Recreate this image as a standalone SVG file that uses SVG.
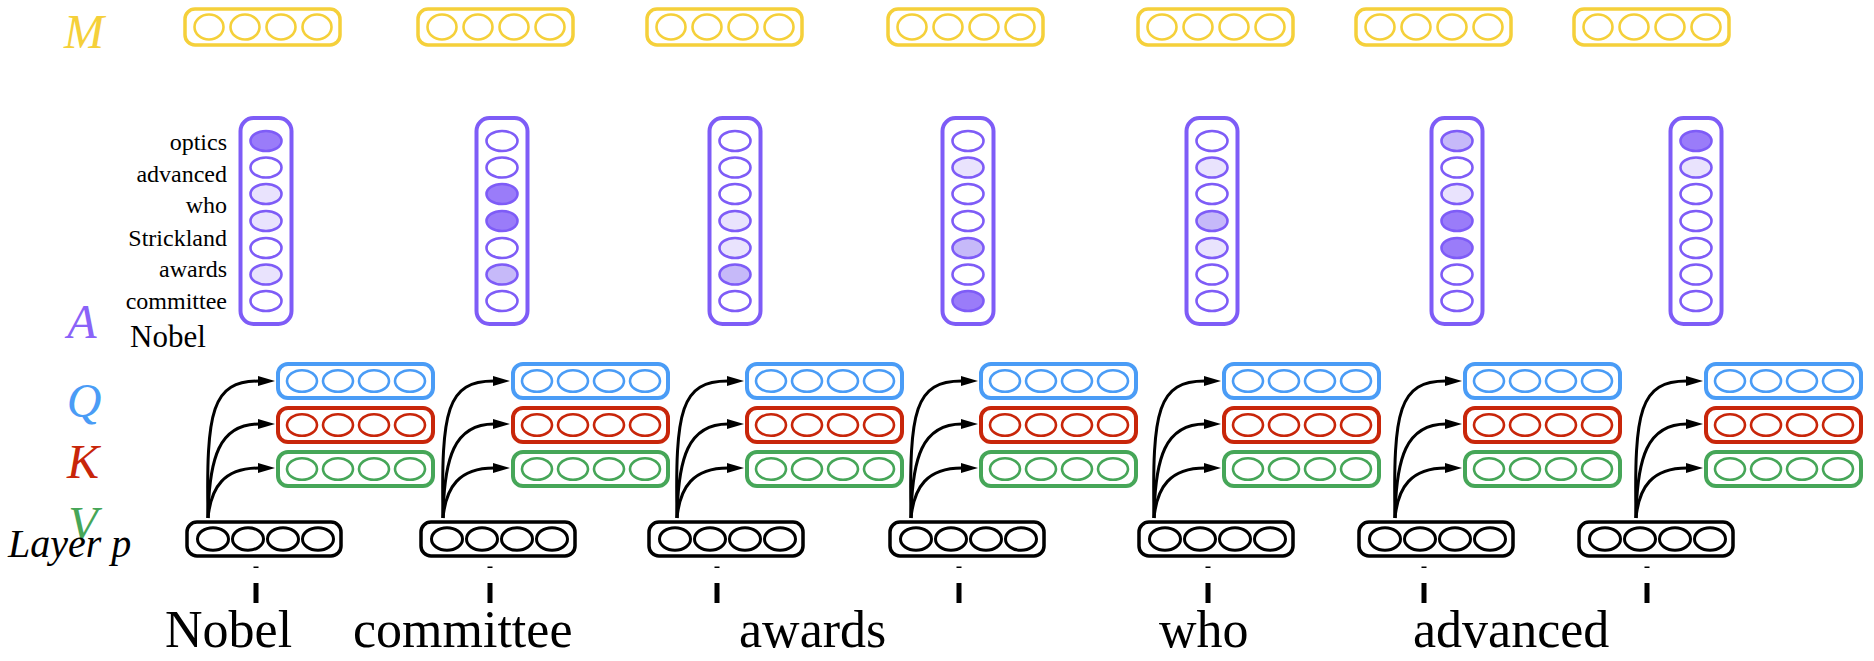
<svg xmlns="http://www.w3.org/2000/svg" width="1874" height="661" viewBox="0 0 1874 661">
<style>
  .t { font-family: "Liberation Serif", "Times New Roman", serif; }
  .it { font-family: "Liberation Serif", "Times New Roman", serif; font-style: italic; }
  .ybox { fill: #fff; stroke: #F5D03A; stroke-width: 3.5; }
  .yc { fill: #fff; stroke: #F5D03A; stroke-width: 2.6; }
  .qbox { fill: #fff; stroke: #4A9CF6; stroke-width: 4; }
  .qc { fill: #fff; stroke: #4A9CF6; stroke-width: 2.6; }
  .kbox { fill: #fff; stroke: #C8260A; stroke-width: 4; }
  .kc { fill: #fff; stroke: #C8260A; stroke-width: 2.6; }
  .vbox { fill: #fff; stroke: #46A658; stroke-width: 4; }
  .vc { fill: #fff; stroke: #46A658; stroke-width: 2.6; }
  .bbox { fill: #fff; stroke: #000; stroke-width: 3.5; }
  .bc { fill: #fff; stroke: #000; stroke-width: 3; }
  .pbox { fill: #fff; stroke: #7E5CF7; stroke-width: 4; }
  .pc { fill: #fff; stroke: #7E5CF7; stroke-width: 2.6; }
  .p0 { fill: #fff; }
  .p1 { fill: #E9E3FD; }
  .p2 { fill: #C6B9F9; }
  .p3 { fill: #9A7CF9; }
  .arr { fill: none; stroke: #000; stroke-width: 3; marker-end: url(#ah); }
  .tick { fill: #000; }
</style>
<defs>
  <marker id="ah" markerUnits="userSpaceOnUse" markerWidth="18" markerHeight="12" refX="1" refY="5" orient="auto">
    <path d="M0,0 L17,5 L0,10 z" fill="#000"/>
  </marker>
  <g id="yrow">
    <rect class="ybox" x="2" y="9" width="155" height="36" rx="10"/>
    <ellipse class="yc" cx="26" cy="27" rx="14.5" ry="12.5"/>
    <ellipse class="yc" cx="62" cy="27" rx="14.5" ry="12.5"/>
    <ellipse class="yc" cx="98" cy="27" rx="14.5" ry="12.5"/>
    <ellipse class="yc" cx="134" cy="27" rx="14.5" ry="12.5"/>
  </g>
  <g id="qrow">
    <rect class="qbox" x="2" y="2" width="155" height="34" rx="10"/>
    <ellipse class="qc" cx="26" cy="19" rx="15" ry="10.8"/>
    <ellipse class="qc" cx="62" cy="19" rx="15" ry="10.8"/>
    <ellipse class="qc" cx="98" cy="19" rx="15" ry="10.8"/>
    <ellipse class="qc" cx="134" cy="19" rx="15" ry="10.8"/>
  </g>
  <g id="krow">
    <rect class="kbox" x="2" y="2" width="155" height="34" rx="10"/>
    <ellipse class="kc" cx="26" cy="19" rx="15" ry="10.8"/>
    <ellipse class="kc" cx="62" cy="19" rx="15" ry="10.8"/>
    <ellipse class="kc" cx="98" cy="19" rx="15" ry="10.8"/>
    <ellipse class="kc" cx="134" cy="19" rx="15" ry="10.8"/>
  </g>
  <g id="vrow">
    <rect class="vbox" x="2" y="2" width="155" height="34" rx="10"/>
    <ellipse class="vc" cx="26" cy="19" rx="15" ry="10.8"/>
    <ellipse class="vc" cx="62" cy="19" rx="15" ry="10.8"/>
    <ellipse class="vc" cx="98" cy="19" rx="15" ry="10.8"/>
    <ellipse class="vc" cx="134" cy="19" rx="15" ry="10.8"/>
  </g>
  <g id="brow">
    <rect class="bbox" x="2" y="2" width="154" height="34" rx="10"/>
    <ellipse class="bc" cx="28" cy="19" rx="15.5" ry="11.3"/>
    <ellipse class="bc" cx="63" cy="19" rx="15.5" ry="11.3"/>
    <ellipse class="bc" cx="98" cy="19" rx="15.5" ry="11.3"/>
    <ellipse class="bc" cx="133" cy="19" rx="15.5" ry="11.3"/>
  </g>
  <rect id="pcol" class="pbox" x="-25.5" y="118" width="51" height="206" rx="13"/>
</defs>

<!-- row labels -->
<g id="row-labels">
  <text class="it" x="84" y="48" font-size="48" text-anchor="middle" fill="#F5D03A">M</text>
  <text class="it" x="82" y="338" font-size="48" text-anchor="middle" fill="#8A63F8">A</text>
  <text class="it" x="84" y="417" font-size="48" text-anchor="middle" fill="#4A9CF6">Q</text>
  <text class="it" x="83" y="478" font-size="48" text-anchor="middle" fill="#C8260A">K</text>
  <text class="it" x="83" y="540" font-size="48" text-anchor="middle" fill="#46A658">V</text>
  <text class="it" x="8" y="557" font-size="40" fill="#000">Layer p</text>
</g>

<g id="attn-labels" class="t" font-size="24" text-anchor="end" fill="#000">
  <text x="227" y="150">optics</text>
  <text x="227" y="182">advanced</text>
  <text x="227" y="213">who</text>
  <text x="227" y="245.5">Strickland</text>
  <text x="227" y="277">awards</text>
  <text x="227" y="309">committee</text>
  <text x="130" y="347" text-anchor="start" font-size="31">Nobel</text>
</g>

<!-- M row -->
<g id="m1"><use href="#yrow" transform="translate(183,0)"/></g>
<g id="m2"><use href="#yrow" transform="translate(416,0)"/></g>
<g id="m3"><use href="#yrow" transform="translate(645,0)"/></g>
<g id="m4"><use href="#yrow" transform="translate(886,0)"/></g>
<g id="m5"><use href="#yrow" transform="translate(1136,0)"/></g>
<g id="m6"><use href="#yrow" transform="translate(1354,0)"/></g>
<g id="m7"><use href="#yrow" transform="translate(1572,0)"/></g>

<!-- A columns -->
<g id="a1" transform="translate(266,0)">
  <use href="#pcol"/>
  <ellipse class="pc p3" cx="0" cy="141" rx="15.5" ry="10"/>
  <ellipse class="pc p0" cx="0" cy="167.5" rx="15.5" ry="10"/>
  <ellipse class="pc p1" cx="0" cy="194" rx="15.5" ry="10"/>
  <ellipse class="pc p1" cx="0" cy="221" rx="15.5" ry="10"/>
  <ellipse class="pc p0" cx="0" cy="248" rx="15.5" ry="10"/>
  <ellipse class="pc p1" cx="0" cy="274.5" rx="15.5" ry="10"/>
  <ellipse class="pc p0" cx="0" cy="301" rx="15.5" ry="10"/>
</g>
<g id="a2" transform="translate(502,0)">
  <use href="#pcol"/>
  <ellipse class="pc p0" cx="0" cy="141" rx="15.5" ry="10"/>
  <ellipse class="pc p0" cx="0" cy="167.5" rx="15.5" ry="10"/>
  <ellipse class="pc p3" cx="0" cy="194" rx="15.5" ry="10"/>
  <ellipse class="pc p3" cx="0" cy="221" rx="15.5" ry="10"/>
  <ellipse class="pc p0" cx="0" cy="248" rx="15.5" ry="10"/>
  <ellipse class="pc p2" cx="0" cy="274.5" rx="15.5" ry="10"/>
  <ellipse class="pc p0" cx="0" cy="301" rx="15.5" ry="10"/>
</g>
<g id="a3" transform="translate(735,0)">
  <use href="#pcol"/>
  <ellipse class="pc p0" cx="0" cy="141" rx="15.5" ry="10"/>
  <ellipse class="pc p0" cx="0" cy="167.5" rx="15.5" ry="10"/>
  <ellipse class="pc p0" cx="0" cy="194" rx="15.5" ry="10"/>
  <ellipse class="pc p1" cx="0" cy="221" rx="15.5" ry="10"/>
  <ellipse class="pc p1" cx="0" cy="248" rx="15.5" ry="10"/>
  <ellipse class="pc p2" cx="0" cy="274.5" rx="15.5" ry="10"/>
  <ellipse class="pc p0" cx="0" cy="301" rx="15.5" ry="10"/>
</g>
<g id="a4" transform="translate(968,0)">
  <use href="#pcol"/>
  <ellipse class="pc p0" cx="0" cy="141" rx="15.5" ry="10"/>
  <ellipse class="pc p1" cx="0" cy="167.5" rx="15.5" ry="10"/>
  <ellipse class="pc p0" cx="0" cy="194" rx="15.5" ry="10"/>
  <ellipse class="pc p0" cx="0" cy="221" rx="15.5" ry="10"/>
  <ellipse class="pc p2" cx="0" cy="248" rx="15.5" ry="10"/>
  <ellipse class="pc p0" cx="0" cy="274.5" rx="15.5" ry="10"/>
  <ellipse class="pc p3" cx="0" cy="301" rx="15.5" ry="10"/>
</g>
<g id="a5" transform="translate(1212,0)">
  <use href="#pcol"/>
  <ellipse class="pc p0" cx="0" cy="141" rx="15.5" ry="10"/>
  <ellipse class="pc p1" cx="0" cy="167.5" rx="15.5" ry="10"/>
  <ellipse class="pc p0" cx="0" cy="194" rx="15.5" ry="10"/>
  <ellipse class="pc p2" cx="0" cy="221" rx="15.5" ry="10"/>
  <ellipse class="pc p1" cx="0" cy="248" rx="15.5" ry="10"/>
  <ellipse class="pc p0" cx="0" cy="274.5" rx="15.5" ry="10"/>
  <ellipse class="pc p0" cx="0" cy="301" rx="15.5" ry="10"/>
</g>
<g id="a6" transform="translate(1457,0)">
  <use href="#pcol"/>
  <ellipse class="pc p2" cx="0" cy="141" rx="15.5" ry="10"/>
  <ellipse class="pc p0" cx="0" cy="167.5" rx="15.5" ry="10"/>
  <ellipse class="pc p1" cx="0" cy="194" rx="15.5" ry="10"/>
  <ellipse class="pc p3" cx="0" cy="221" rx="15.5" ry="10"/>
  <ellipse class="pc p3" cx="0" cy="248" rx="15.5" ry="10"/>
  <ellipse class="pc p0" cx="0" cy="274.5" rx="15.5" ry="10"/>
  <ellipse class="pc p0" cx="0" cy="301" rx="15.5" ry="10"/>
</g>
<g id="a7" transform="translate(1696,0)">
  <use href="#pcol"/>
  <ellipse class="pc p3" cx="0" cy="141" rx="15.5" ry="10"/>
  <ellipse class="pc p1" cx="0" cy="167.5" rx="15.5" ry="10"/>
  <ellipse class="pc p0" cx="0" cy="194" rx="15.5" ry="10"/>
  <ellipse class="pc p0" cx="0" cy="221" rx="15.5" ry="10"/>
  <ellipse class="pc p0" cx="0" cy="248" rx="15.5" ry="10"/>
  <ellipse class="pc p0" cx="0" cy="274.5" rx="15.5" ry="10"/>
  <ellipse class="pc p0" cx="0" cy="301" rx="15.5" ry="10"/>
</g>

<!-- Q K V rows -->
<g id="qkv1"><use href="#qrow" transform="translate(276,362)"/><use href="#krow" transform="translate(276,406)"/><use href="#vrow" transform="translate(276,450)"/></g>
<g id="qkv2"><use href="#qrow" transform="translate(511,362)"/><use href="#krow" transform="translate(511,406)"/><use href="#vrow" transform="translate(511,450)"/></g>
<g id="qkv3"><use href="#qrow" transform="translate(745,362)"/><use href="#krow" transform="translate(745,406)"/><use href="#vrow" transform="translate(745,450)"/></g>
<g id="qkv4"><use href="#qrow" transform="translate(979,362)"/><use href="#krow" transform="translate(979,406)"/><use href="#vrow" transform="translate(979,450)"/></g>
<g id="qkv5"><use href="#qrow" transform="translate(1222,362)"/><use href="#krow" transform="translate(1222,406)"/><use href="#vrow" transform="translate(1222,450)"/></g>
<g id="qkv6"><use href="#qrow" transform="translate(1463,362)"/><use href="#krow" transform="translate(1463,406)"/><use href="#vrow" transform="translate(1463,450)"/></g>
<g id="qkv7"><use href="#qrow" transform="translate(1704,362)"/><use href="#krow" transform="translate(1704,406)"/><use href="#vrow" transform="translate(1704,450)"/></g>

<!-- Layer p -->
<g id="layer1"><use href="#brow" transform="translate(185,520)"/></g>
<g id="layer2"><use href="#brow" transform="translate(419,520)"/></g>
<g id="layer3"><use href="#brow" transform="translate(647,520)"/></g>
<g id="layer4"><use href="#brow" transform="translate(888,520)"/></g>
<g id="layer5"><use href="#brow" transform="translate(1137,520)"/></g>
<g id="layer6"><use href="#brow" transform="translate(1357,520)"/></g>
<g id="layer7"><use href="#brow" transform="translate(1577,520)"/></g>

<!-- connectors -->
<g id="connectors">
  <g transform="translate(208,0)">
    <path class="arr" d="M0,518 C-2,410 4,381 51,381"/>
    <path class="arr" d="M0,518 C1,458 11,424 51,424"/>
    <path class="arr" d="M0,518 C3,487 16,468 51,468"/>
  </g>
  <g transform="translate(443,0)">
    <path class="arr" d="M0,518 C-2,410 4,381 51,381"/>
    <path class="arr" d="M0,518 C1,458 11,424 51,424"/>
    <path class="arr" d="M0,518 C3,487 16,468 51,468"/>
  </g>
  <g transform="translate(677,0)">
    <path class="arr" d="M0,518 C-2,410 4,381 51,381"/>
    <path class="arr" d="M0,518 C1,458 11,424 51,424"/>
    <path class="arr" d="M0,518 C3,487 16,468 51,468"/>
  </g>
  <g transform="translate(911,0)">
    <path class="arr" d="M0,518 C-2,410 4,381 51,381"/>
    <path class="arr" d="M0,518 C1,458 11,424 51,424"/>
    <path class="arr" d="M0,518 C3,487 16,468 51,468"/>
  </g>
  <g transform="translate(1154,0)">
    <path class="arr" d="M0,518 C-2,410 4,381 51,381"/>
    <path class="arr" d="M0,518 C1,458 11,424 51,424"/>
    <path class="arr" d="M0,518 C3,487 16,468 51,468"/>
  </g>
  <g transform="translate(1395,0)">
    <path class="arr" d="M0,518 C-2,410 4,381 51,381"/>
    <path class="arr" d="M0,518 C1,458 11,424 51,424"/>
    <path class="arr" d="M0,518 C3,487 16,468 51,468"/>
  </g>
  <g transform="translate(1636,0)">
    <path class="arr" d="M0,518 C-2,410 4,381 51,381"/>
    <path class="arr" d="M0,518 C1,458 11,424 51,424"/>
    <path class="arr" d="M0,518 C3,487 16,468 51,468"/>
  </g>
</g>

<!-- ticks -->
<g id="ticks" class="tick">
  <rect x="253.5" y="566.5" width="5" height="1.5"/><rect x="253.5" y="583" width="5" height="20"/>
  <rect x="487.5" y="566.5" width="5" height="1.5"/><rect x="487.5" y="583" width="5" height="20"/>
  <rect x="714.5" y="566.5" width="5" height="1.5"/><rect x="714.5" y="583" width="5" height="20"/>
  <rect x="956.5" y="566.5" width="5" height="1.5"/><rect x="956.5" y="583" width="5" height="20"/>
  <rect x="1205.5" y="566.5" width="5" height="1.5"/><rect x="1205.5" y="583" width="5" height="20"/>
  <rect x="1421.5" y="566.5" width="5" height="1.5"/><rect x="1421.5" y="583" width="5" height="20"/>
  <rect x="1644.5" y="566.5" width="5" height="1.5"/><rect x="1644.5" y="583" width="5" height="20"/>
</g>

<!-- tokens -->
<g id="tokens" class="t" font-size="52" fill="#000">
  <text x="165" y="647">Nobel</text>
  <text x="353" y="647">committee</text>
  <text x="739" y="647">awards</text>
  <text x="1159" y="647">who</text>
  <text x="1413" y="647">advanced</text>
</g>
</svg>
